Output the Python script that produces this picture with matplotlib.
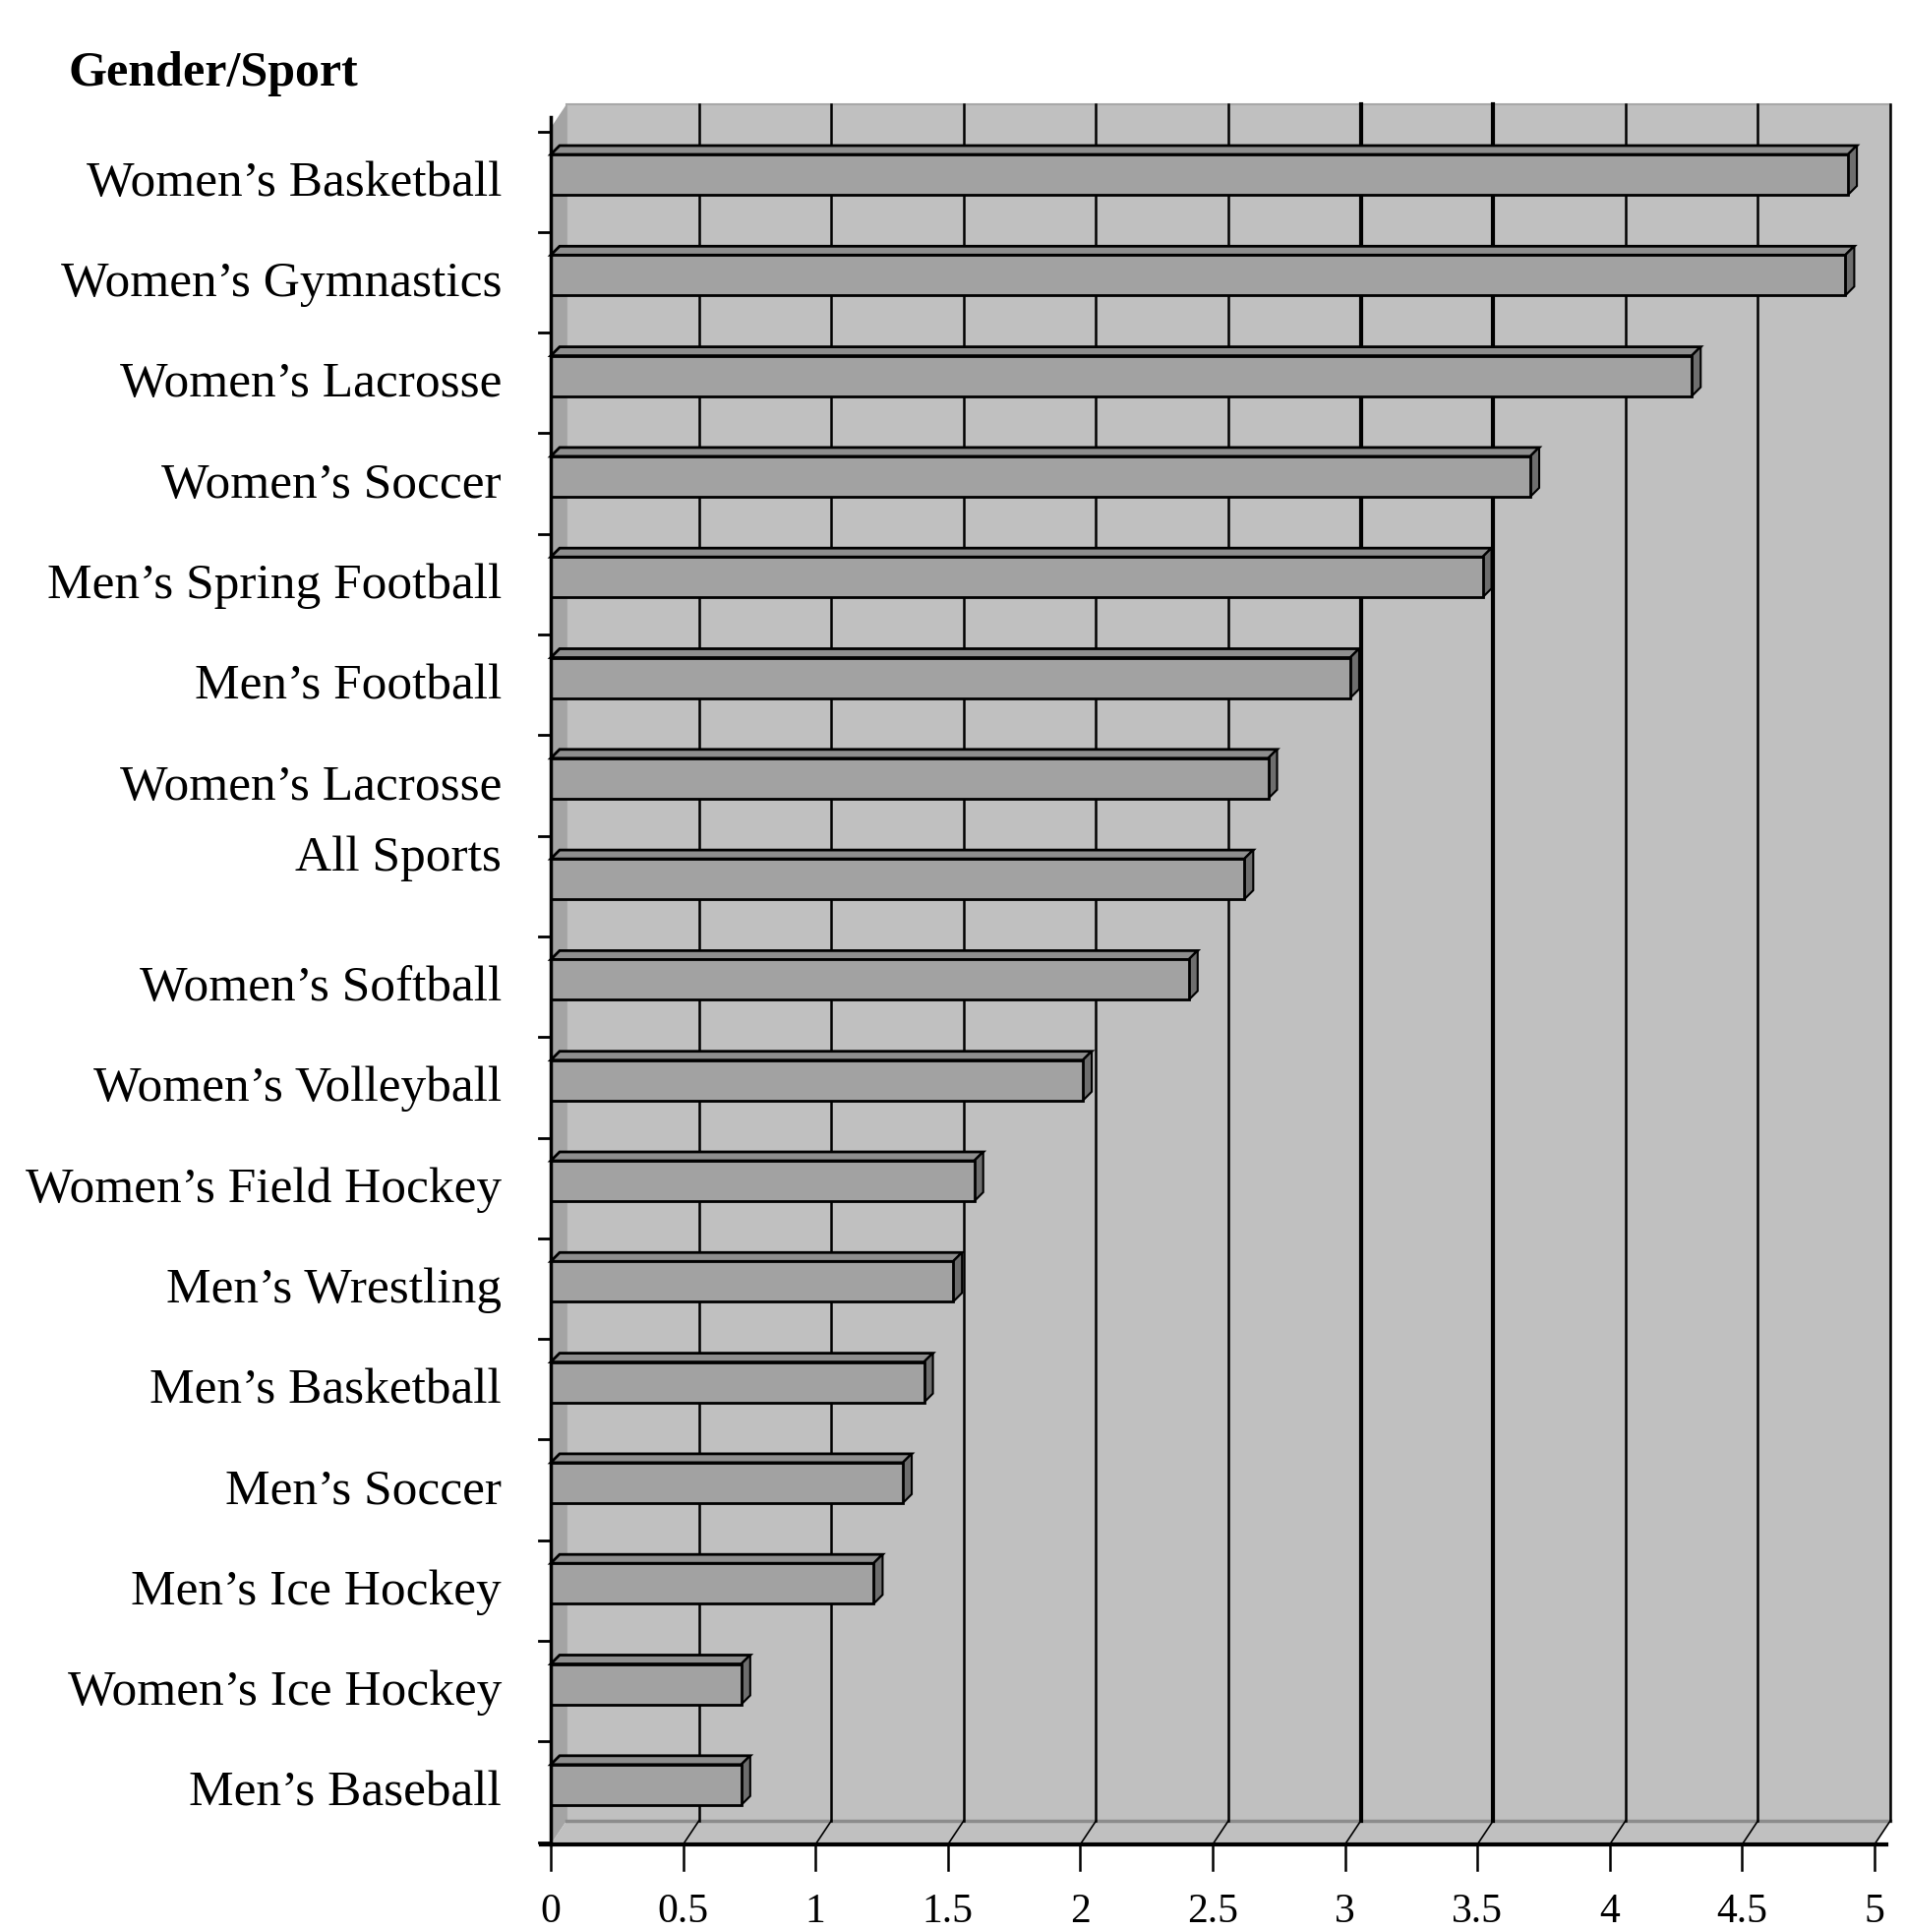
import numpy as np
import matplotlib.pyplot as plt
from matplotlib.patches import Polygon, Rectangle

# data (top to bottom)
sports = ["Women\u2019s Basketball", "Women\u2019s Gymnastics", "Women\u2019s Lacrosse",
          "Women\u2019s Soccer", "Men\u2019s Spring Football", "Men\u2019s Football",
          "Women\u2019s Lacrosse", "All Sports", "Women\u2019s Softball",
          "Women\u2019s Volleyball", "Women\u2019s Field Hockey", "Men\u2019s Wrestling",
          "Men\u2019s Basketball", "Men\u2019s Soccer", "Men\u2019s Ice Hockey",
          "Women\u2019s Ice Hockey", "Men\u2019s Baseball"]
values = [4.90, 4.89, 4.31, 3.70, 3.52, 3.02, 2.71, 2.62, 2.41,
          2.01, 1.60, 1.52, 1.41, 1.33, 1.22, 0.72, 0.72]
xticks = [0, 0.5, 1, 1.5, 2, 2.5, 3, 3.5, 4, 4.5, 5]
xticklabels = ["0", "0.5", "1", "1.5", "2", "2.5", "3", "3.5", "4", "4.5", "5"]

plt.rcParams['font.family'] = ['Liberation Serif', 'DejaVu Serif']

W, H = 1937, 1965
fig = plt.figure(figsize=(W / 100, H / 100), dpi=100)

# axes: x 0..5 maps to px 560..1906, y rows centred on 0..16
px_left, px_right = 560, 1906
px_top, px_bot = 100, 1876
ax = fig.add_axes([px_left / W, 1 - px_bot / H, (px_right - px_left) / W, (px_bot - px_top) / H])
row_px = 102.3
y0 = 178.5
def ypx(p):
    return (p - y0) / row_px
ax.set_xlim(0, 5)
ax.set_ylim(ypx(px_bot), ypx(px_top))
ax.axis("off")

ux = (px_right - px_left) / 5.0
dx = 16 / ux          # wall depth shift
dy = -24 / row_px
wall_top = ypx(107)
floor_y = ypx(px_bot)
wall_bot = floor_y + dy

wall_c = "#c0c0c0"
# back wall
ax.add_patch(Rectangle((dx, wall_top), 5, wall_bot - wall_top, facecolor=wall_c,
                       edgecolor="#a8a8a8", lw=1.5, zorder=1, clip_on=False))
# side wall
ax.add_patch(Polygon([(0, floor_y), (0, wall_top - dy), (dx, wall_top), (dx, wall_bot)],
                     closed=True, facecolor="#a4a4a4", edgecolor="none", zorder=1, clip_on=False))
# floor
ax.add_patch(Polygon([(0, floor_y), (5, floor_y), (5 + dx, wall_bot), (dx, wall_bot)],
                     closed=True, facecolor=wall_c, edgecolor="none", zorder=1, clip_on=False))
ax.plot([dx, 5 + dx], [wall_bot, wall_bot], color="#8c8c8c", lw=2.5, zorder=2, clip_on=False)

# grid lines on wall and floor
for t in xticks[1:]:
    lw = 3.0 if t in (3, 3.5) else 1.8
    ax.plot([t + dx, t + dx], [wall_top, wall_bot], color="black", lw=lw, zorder=2, clip_on=False)
    ax.plot([t, t + dx], [floor_y, wall_bot], color="black", lw=1.2, zorder=2, clip_on=False)

# bars (front face, top face, end face)
h = 41 / row_px
bdx = 9 / ux
bdy = -9 / row_px
for i, v in enumerate(values):
    top = i - h / 2
    bot = i + h / 2
    ax.add_patch(Polygon([(0, top), (v, top), (v + bdx, top + bdy), (bdx, top + bdy)],
                         closed=True, facecolor="#8e8e8e", edgecolor="black", lw=2, zorder=3, clip_on=False))
    ax.add_patch(Polygon([(v, top), (v + bdx, top + bdy), (v + bdx, bot + bdy), (v, bot)],
                         closed=True, facecolor="#6e6e6e", edgecolor="black", lw=1.5, zorder=3, clip_on=False))
    ax.add_patch(Rectangle((0, top), v, h, facecolor="#a2a2a2", edgecolor="black",
                           lw=2, zorder=4, clip_on=False))

# left axis with ticks between rows
ax.plot([0, 0], [ypx(120), floor_y], color="black", lw=2.5, zorder=5, clip_on=False)
for b in np.arange(len(sports) + 1) - 0.43:
    ax.plot([-12 / ux, 0], [b, b], color="black", lw=2, zorder=5, clip_on=False)

# bottom axis with ticks and labels
ax.plot([-10 / ux, 5 + 12 / ux], [floor_y, floor_y], color="black", lw=3, zorder=5, clip_on=False)
tick_len = 26 / row_px
for t, lab in zip(xticks, xticklabels):
    ax.plot([t, t], [floor_y, floor_y + tick_len], color="black", lw=1.8, zorder=5, clip_on=False)
    ax.text(t, ypx(1963), lab, ha="center", va="bottom", fontsize=30, clip_on=False)

# category labels
for i, name in enumerate(sports):
    yy = i + 8 / row_px
    if name == "All Sports":
        yy = i - 22 / row_px
    ax.text(-50 / ux, yy, name, ha="right", va="center", fontsize=37, clip_on=False)

fig.text(69 / W, 1 - 75 / H, "Gender/Sport", ha="left", va="center",
         fontsize=36, fontweight="bold")

fig.savefig("out.png", dpi=100)
